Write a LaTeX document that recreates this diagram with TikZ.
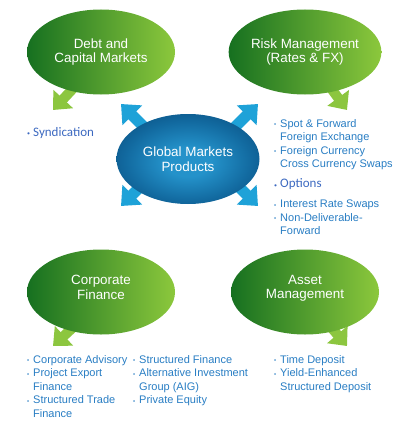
\documentclass[tikz,border=0pt]{standalone}
\usepackage{fontspec}
\setmainfont{Liberation Sans}
\newfontfamily\optfont{Carlito}
\usetikzlibrary{shapes.geometric, arrows.meta, backgrounds}
\definecolor{gdark}{RGB}{22,112,32}
\definecolor{glight}{RGB}{140,200,60}
\definecolor{garrowc}{RGB}{140,198,63}
\definecolor{barrowc}{RGB}{30,162,216}
\definecolor{bluein}{RGB}{36,146,202}
\definecolor{bluemid}{RGB}{18,106,160}
\definecolor{blueout}{RGB}{10,80,130}
\definecolor{listblue}{RGB}{40,125,195}
\definecolor{optblue}{RGB}{60,105,192}
\pgfdeclareradialshading{hubshade}{\pgfpoint{0bp}{-2bp}}{color(0bp)=(bluein); color(8bp)=(bluein); color(22bp)=(bluemid); color(32bp)=(blueout); color(50bp)=(blueout)}
\newcommand{\bul}{\makebox[6pt][l]{\raisebox{0.5pt}{\fontsize{6}{6}\selectfont\textbullet}}}
\newcommand{\ind}{\hspace*{6pt}}

\begin{document}
\begin{tikzpicture}[
    x=1pt, y=-1pt,
    topic/.style={ellipse, minimum width=148pt, minimum height=85pt, inner sep=0pt,
    align=center, text=white, font=\fontsize{13.4}{14.7}\selectfont,
    left color=gdark, right color=glight},
    hub/.style={ellipse, minimum width=143pt, minimum height=90pt, inner sep=0pt,
    align=center, text=white, font=\fontsize{13.4}{14.7}\selectfont,
    shading=hubshade},
    garrow/.style={line width=10pt, draw=garrowc, -{Triangle[length=15pt, width=26pt]}},
    barrow/.style={line width=11pt, draw=barrowc, -{Triangle[length=16pt, width=27pt]}},
    items/.style={anchor=north west, inner sep=0pt, align=left, text=listblue,
    font=\fontsize{11}{13.5}\selectfont},
    optitem/.style={anchor=north west, inner sep=0pt, text=optblue,
    font=\optfont\fontsize{13}{13}\selectfont}
]
\useasboundingbox (0,0) rectangle (408,436);

\node[topic] (debt) at (101,52) {Debt and\\Capital Markets};
\node[topic] (risk) at (305,52) {Risk Management\\(Rates \& FX)};
\node[hub] (global) at (188,159) {Global Markets\\Products};
\node[topic, text depth=10pt] (corp) at (101,292) {Corporate\\Finance};
\node[topic, text depth=10pt] (asset) at (305,292) {Asset\\Management};

\coordinate (debtTip) at (53,110);
\coordinate (riskTip) at (347,110);
\coordinate (corpTip) at (53,346);
\coordinate (assetTip) at (347,346);
\coordinate (nwTip) at (121,104);
\coordinate (neTip) at (258,104);
\coordinate (swTip) at (121,206);
\coordinate (seTip) at (258,206);

\begin{scope}[on background layer]
\draw[garrow] ([shift={(-20,28)}]debt.center) -- (debtTip);
\draw[garrow] ([shift={(20,28)}]risk.center) -- (riskTip);
\draw[garrow] ([shift={(-20,28)}]corp.center) -- (corpTip);
\draw[garrow] ([shift={(20,28)}]asset.center) -- (assetTip);
\draw[barrow] ([shift={(-21,-9)}]global.center) -- (nwTip);
\draw[barrow] ([shift={(24,-9)}]global.center) -- (neTip);
\draw[barrow] ([shift={(-21,1)}]global.center) -- (swTip);
\draw[barrow] ([shift={(24,1)}]global.center) -- (seTip);
\end{scope}

\node[optitem] (synd) at (27,127) {\bul Syndication};
\node[items] (fx) at (274,119) {\bul Spot \& Forward\\\ind Foreign Exchange\\
\bul Foreign Currency\\\ind Cross Currency Swaps};
\node[optitem] (opt) at (274,178.5) {\bul Options};
\node[items] (swaps) at (274,200) {\bul Interest Rate Swaps\\\bul Non-Deliverable-\\\ind Forward};

\node[items] (corpList) at (27,355) {\bul Corporate Advisory\\\bul Project Export\\\ind Finance\\
\bul Structured Trade\\\ind Finance};
\node[items] (structList) at (133,355) {\bul Structured Finance\\\bul Alternative Investment\\
\ind Group (AIG)\\\bul Private Equity};
\node[items] (assetList) at (274,355) {\bul Time Deposit\\\bul Yield-Enhanced\\\ind Structured Deposit};

\end{tikzpicture}
\end{document}
